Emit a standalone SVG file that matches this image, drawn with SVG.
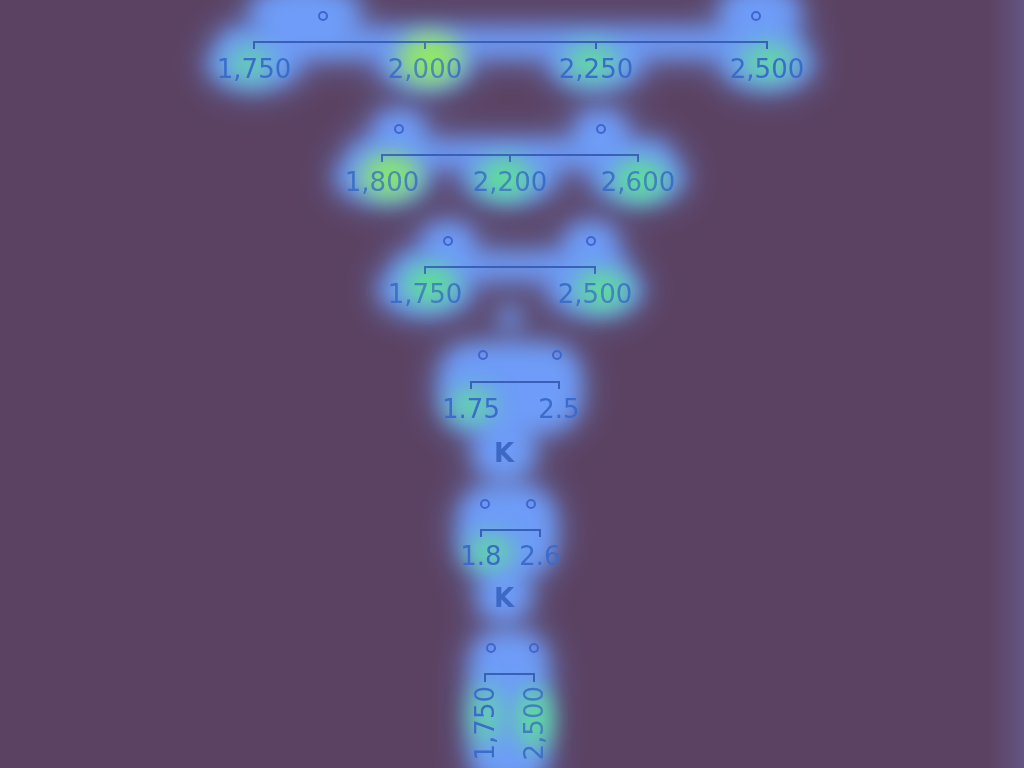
<svg xmlns="http://www.w3.org/2000/svg" width="1024" height="768" viewBox="0 0 1024 768">
<defs>
<filter id="blurW" x="-50%" y="-50%" width="200%" height="200%"><feGaussianBlur stdDeviation="20"/></filter>
<filter id="blurA" x="-50%" y="-50%" width="200%" height="200%"><feGaussianBlur stdDeviation="11"/></filter>
<filter id="blurB" x="-50%" y="-50%" width="200%" height="200%"><feGaussianBlur stdDeviation="12"/></filter>
<linearGradient id="edge" x1="0" y1="0" x2="1" y2="0">
<stop offset="0" stop-color="#5B4262"/>
<stop offset="1" stop-color="#635583"/>
</linearGradient>
<style>
.glow{fill:#6E9CF8}
.hot{fill:#5DE88E}
.lbl{font-family:"DejaVu Sans",Verdana,sans-serif;font-size:26px;fill:#3C6CCB;text-anchor:middle}
.k{font-family:"DejaVu Sans",Verdana,sans-serif;font-size:26px;font-weight:bold;fill:#3D68C4;text-anchor:middle}
.dot{fill:none;stroke:#3F66CF;stroke-width:2}
.axis{fill:none;stroke:#3A5FB8;stroke-width:2}
</style>
<g id="shapes">
<rect class="glow" x="220" y="30" width="580" height="26" rx="12"/>
<ellipse class="glow" cx="254" cy="64" rx="46" ry="24"/>
<ellipse class="glow" cx="425" cy="64" rx="46" ry="24"/>
<ellipse class="glow" cx="596" cy="64" rx="46" ry="24"/>
<ellipse class="glow" cx="767" cy="64" rx="46" ry="24"/>
<ellipse class="glow" cx="305" cy="12" rx="55" ry="24"/>
<ellipse class="glow" cx="760" cy="12" rx="40" ry="24"/>
<rect class="glow" x="350" y="142" width="320" height="24" rx="12"/>
<ellipse class="glow" cx="382" cy="177" rx="46" ry="24"/>
<ellipse class="glow" cx="510" cy="177" rx="46" ry="24"/>
<ellipse class="glow" cx="638" cy="177" rx="46" ry="24"/>
<ellipse class="glow" cx="399" cy="130" rx="26" ry="19"/>
<ellipse class="glow" cx="601" cy="130" rx="26" ry="19"/>
<rect class="glow" x="395" y="254" width="230" height="24" rx="12"/>
<ellipse class="glow" cx="425" cy="290" rx="46" ry="24"/>
<ellipse class="glow" cx="595" cy="290" rx="46" ry="24"/>
<ellipse class="glow" cx="448" cy="242" rx="26" ry="19"/>
<ellipse class="glow" cx="591" cy="242" rx="26" ry="19"/>
<ellipse class="glow" cx="510" cy="318" rx="10" ry="12"/>
<rect class="glow" x="441" y="346" width="138" height="84" rx="30"/>
<ellipse class="glow" cx="504" cy="452" rx="30" ry="26"/>
<rect class="glow" x="460" y="488" width="94" height="86" rx="30"/>
<ellipse class="glow" cx="504" cy="596" rx="26" ry="24"/>
<rect class="glow" x="472" y="634" width="74" height="150" rx="25"/>
</g>
</defs>
<rect width="1024" height="768" fill="#5B4262"/>
<rect x="988" y="0" width="36" height="768" fill="url(#edge)"/>

<g id="halo" filter="url(#blurW)" opacity="0.75">
<use href="#shapes"/>
</g>
<g id="glow" filter="url(#blurA)">
<use href="#shapes"/>
</g>

<g id="hot" filter="url(#blurB)">
<ellipse class="hot" cx="250" cy="64" rx="22" ry="17" opacity="0.7"/>
<ellipse cx="430" cy="58" rx="30" ry="24" fill="#9BE866"/>
<ellipse class="hot" cx="592" cy="62" rx="26" ry="18" opacity="0.85"/>
<ellipse class="hot" cx="768" cy="62" rx="26" ry="18" opacity="0.85"/>
<ellipse cx="390" cy="176" rx="28" ry="20" fill="#8CE86E"/>
<ellipse class="hot" cx="505" cy="178" rx="26" ry="18" opacity="0.9"/>
<ellipse class="hot" cx="640" cy="180" rx="26" ry="18" opacity="0.9"/>
<ellipse class="hot" cx="430" cy="284" rx="26" ry="18" opacity="0.9"/>
<ellipse class="hot" cx="602" cy="290" rx="26" ry="18" opacity="0.85"/>
<ellipse class="hot" cx="472" cy="405" rx="22" ry="16" opacity="0.85"/>
<ellipse class="hot" cx="490" cy="552" rx="22" ry="16" opacity="0.85"/>
<ellipse class="hot" cx="485" cy="715" rx="15" ry="30" opacity="0.75"/>
<ellipse class="hot" cx="535" cy="718" rx="15" ry="30" opacity="0.9"/>
</g>

<g id="axis1">
<circle class="dot" cx="323" cy="16" r="4"/>
<circle class="dot" cx="756" cy="16" r="4"/>
<path class="axis" d="M254,49V42H767V49M425,42V49M596,42V49"/>
<text class="lbl" x="254" y="78">1,750</text>
<text class="lbl" x="425" y="78">2,000</text>
<text class="lbl" x="596" y="78">2,250</text>
<text class="lbl" x="767" y="78">2,500</text>
</g>
<g id="axis2">
<circle class="dot" cx="399" cy="129" r="4"/>
<circle class="dot" cx="601" cy="129" r="4"/>
<path class="axis" d="M382,162V155H638V162M510,155V162"/>
<text class="lbl" x="382" y="191">1,800</text>
<text class="lbl" x="510" y="191">2,200</text>
<text class="lbl" x="638" y="191">2,600</text>
</g>
<g id="axis3">
<circle class="dot" cx="448" cy="241" r="4"/>
<circle class="dot" cx="591" cy="241" r="4"/>
<path class="axis" d="M425,274V267H595V274"/>
<text class="lbl" x="425" y="303">1,750</text>
<text class="lbl" x="595" y="303">2,500</text>
</g>
<g id="axis4">
<circle class="dot" cx="483" cy="355" r="4"/>
<circle class="dot" cx="557" cy="355" r="4"/>
<path class="axis" d="M471,389V382H559V389"/>
<text class="lbl" x="471" y="418">1.75</text>
<text class="lbl" x="559" y="418">2.5</text>
<text class="k" x="504" y="462">K</text>
</g>
<g id="axis5">
<circle class="dot" cx="485" cy="504" r="4"/>
<circle class="dot" cx="531" cy="504" r="4"/>
<path class="axis" d="M481,537V530H540V537"/>
<text class="lbl" x="481" y="565">1.8</text>
<text class="lbl" x="540" y="565">2.6</text>
<text class="k" x="504" y="607">K</text>
</g>
<g id="axis6">
<circle class="dot" cx="491" cy="648" r="4"/>
<circle class="dot" cx="534" cy="648" r="4"/>
<path class="axis" d="M485,682V674H534V682"/>
<text class="lbl" style="text-anchor:end" transform="translate(494,686) rotate(-90)">1,750</text>
<text class="lbl" style="text-anchor:end" transform="translate(543,686) rotate(-90)">2,500</text>
</g>

<g id="tint" filter="url(#blurB)" opacity="0.35">
<ellipse cx="430" cy="62" rx="28" ry="20" fill="#7EE86A"/>
<ellipse cx="390" cy="178" rx="26" ry="18" fill="#7EE86A"/>
<ellipse class="hot" cx="505" cy="180" rx="22" ry="15"/>
<ellipse class="hot" cx="640" cy="182" rx="22" ry="15"/>
<ellipse class="hot" cx="430" cy="288" rx="22" ry="15"/>
<ellipse class="hot" cx="602" cy="292" rx="22" ry="15"/>
<ellipse class="hot" cx="535" cy="720" rx="11" ry="28"/>
</g>
</svg>
